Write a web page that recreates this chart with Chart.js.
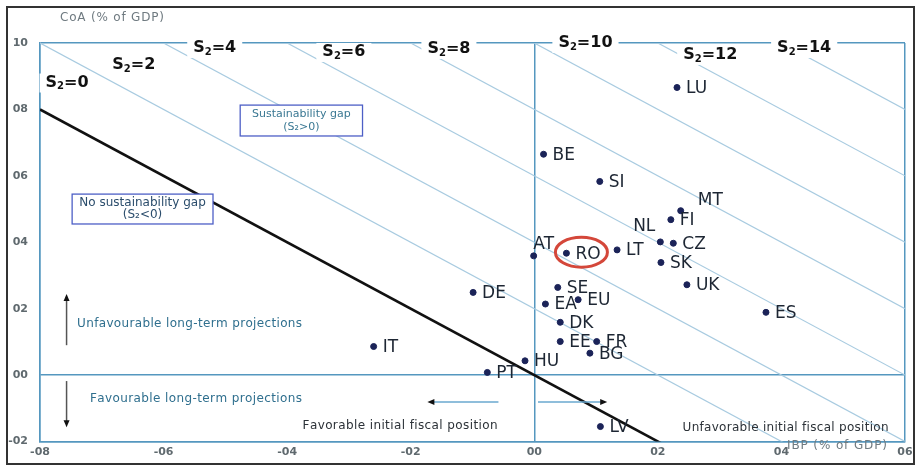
<!DOCTYPE html>
<html>
<head>
<meta charset="utf-8">
<script src="https://cdn.jsdelivr.net/npm/chart.js@4"></script>
<style>
  html, body { margin: 0; padding: 0; background: #fff; }
  #wrap { width: 920px; height: 467px; position: relative; }
</style>
</head>
<body>
<div id="wrap"><canvas id="chart"></canvas></div>
<script>
// values (share of GDP)
const countries = ["LU", "BE", "SI", "MT", "FI", "NL", "CZ", "LT", "RO", "AT", "SK", "UK", "SE", "DE", "EU", "EA", "ES", "DK", "EE", "FR", "BG", "IT", "HU", "PT", "LV"]
const ibp = [0.0231, 0.0015, 0.0106, 0.0237, 0.0221, 0.0204, 0.0225, 0.0134, 0.0052, -0.0001, 0.0205, 0.0247, 0.0038, -0.0099, 0.0071, 0.0018, 0.0375, 0.0042, 0.0042, 0.0101, 0.0090, -0.0260, -0.0015, -0.0076, 0.0107]
const coa = [0.0866, 0.0665, 0.0583, 0.0495, 0.0468, 0.0401, 0.0397, 0.0377, 0.0367, 0.0359, 0.0339, 0.0272, 0.0264, 0.0249, 0.0227, 0.0214, 0.0189, 0.0159, 0.0101, 0.0101, 0.0066, 0.0086, 0.0043, 0.0008, -0.0155]

// S2 iso lines: CoA + IBP = S2 (in % of GDP)
const s2Levels = [0, 2, 4, 6, 8, 10, 12, 14]

const xTickValues = [-0.08, -0.06, -0.04, -0.02, 0, 0.02, 0.04, 0.06]
const xTickLabels = ["-08", "-06", "-04", "-02", "00", "02", "04", "06"]
const yTickValues = [-0.02, 0, 0.02, 0.04, 0.06, 0.08, 0.10]
const yTickLabels = ["-02", "00", "02", "04", "06", "08", "10"]

const X_MIN = -0.08, X_MAX = 0.06, Y_MIN = -0.02, Y_MAX = 0.10

const axisBlue = '#5597bf'
const lineBlue = '#a8cbe0'
const FONT = '"DejaVu Sans", Verdana, sans-serif'

// where a country label sits relative to its dot (default: right of it)
const labelPlacement = {
    AT: { dx: 10, dy: -11, align: 'center' },
    NL: { dx: -5, dy: -15, align: 'right' },
    MT: { dx: 17, dy: -10, align: 'left' }
}

function drawSpaced(ctx, str, x, y, width) {
    // draws str from x, stretched with letter spacing to the given width
    const chars = [...str]
    let natural = 0
    chars.forEach(c => natural += ctx.measureText(c).width)
    const gap = width && chars.length > 1 ? (width - natural) / (chars.length - 1) : 0
    let cx = x
    chars.forEach(c => {
        ctx.fillText(c, cx, y)
        cx += ctx.measureText(c).width + gap
    })
}

function s2Label(ctx, level, x, y) {
    const big = 'bold 16px ' + FONT, small = 'bold 10px ' + FONT
    const parts = [["S", big, 0], ["2", small, 4], ["=" + level, big, 0]]
    let w = 0
    parts.forEach(p => { ctx.font = p[1]; w += ctx.measureText(p[0]).width })
    ctx.fillStyle = '#fff'
    ctx.fillRect(x - 6, y - 9, w + 12, 19)
    ctx.fillStyle = '#111'
    ctx.textBaseline = 'middle'
    ctx.textAlign = 'left'
    let cx = x
    parts.forEach(p => {
        ctx.font = p[1]
        ctx.fillText(p[0], cx, y + p[2])
        cx += ctx.measureText(p[0]).width
    })
}

function arrow(ctx, x1, y1, x2, y2, lineColor) {
    const ang = Math.atan2(y2 - y1, x2 - x1)
    ctx.strokeStyle = lineColor
    ctx.lineWidth = 1.5
    ctx.beginPath()
    ctx.moveTo(x1, y1)
    ctx.lineTo(x2 - 4 * Math.cos(ang), y2 - 4 * Math.sin(ang))
    ctx.stroke()
    ctx.fillStyle = '#111'
    ctx.beginPath()
    ctx.moveTo(x2, y2)
    ctx.lineTo(x2 - 7 * Math.cos(ang) + 3 * Math.sin(ang), y2 - 7 * Math.sin(ang) - 3 * Math.cos(ang))
    ctx.lineTo(x2 - 7 * Math.cos(ang) - 3 * Math.sin(ang), y2 - 7 * Math.sin(ang) + 3 * Math.cos(ang))
    ctx.closePath()
    ctx.fill()
}

function textBox(ctx, lines, x1, y1, x2, y2, font, color) {
    ctx.fillStyle = '#fff'
    ctx.fillRect(x1, y1, x2 - x1, y2 - y1)
    ctx.strokeStyle = '#4d5fc6'
    ctx.lineWidth = 1.3
    ctx.strokeRect(x1, y1, x2 - x1, y2 - y1)
    ctx.font = font
    ctx.fillStyle = color
    ctx.textAlign = 'center'
    ctx.textBaseline = 'middle'
    const h = (y2 - y1) / (lines.length + 1)
    lines.forEach((t, i) => ctx.fillText(t, (x1 + x2) / 2, y1 + h * (i + 1) + (i === 0 ? -1 : 1)))
}

const annotations = {
    id: 'annotations',
    beforeDraw(chart) {
        const ctx = chart.ctx
        ctx.save()
        ctx.fillStyle = '#fff'
        ctx.fillRect(0, 0, chart.width, chart.height)
        ctx.restore()
    },
    afterDraw(chart) {
        const ctx = chart.ctx
        const xs = chart.scales.x, ys = chart.scales.y
        const px = v => xs.getPixelForValue(v)
        const py = v => ys.getPixelForValue(v)
        ctx.save()

        // S2 labels along the top
        const s2Anchors = [[-0.0791, 0.0881], [-0.0683, 0.0934], [-0.0552, 0.0985], [-0.0343, 0.0973],
                           [-0.0173, 0.0982], [0.0039, 0.1000], [0.0241, 0.0964], [0.0393, 0.0985]]
        s2Levels.forEach((lv, i) => s2Label(ctx, lv, px(s2Anchors[i][0]), py(s2Anchors[i][1])))

        // boxes
        textBox(ctx, ["Sustainability gap", "(S\u2082>0)"], px(-0.0476), py(0.0813), px(-0.0278), py(0.0720),
            '11px ' + FONT, '#3a7893')
        textBox(ctx, ["No sustainability gap", "(S\u2082<0)"], px(-0.0748), py(0.0545), px(-0.0520), py(0.0455),
            '12px ' + FONT, '#2b4d6c')

        // side notes
        ctx.textAlign = 'left'
        ctx.textBaseline = 'middle'
        ctx.font = '12px ' + FONT
        ctx.fillStyle = '#2f6f8e'
        drawSpaced(ctx, "Unfavourable long-term projections", px(-0.0740), py(0.0154), 225)
        drawSpaced(ctx, "Favourable long-term projections", px(-0.0719), py(-0.0072), 212)
        ctx.fillStyle = '#2c3238'
        drawSpaced(ctx, "Favorable initial fiscal position", px(-0.0375), py(-0.0154), 195)
        drawSpaced(ctx, "Unfavorable initial fiscal position", px(0.0240), py(-0.0160), 206)

        arrow(ctx, px(-0.0757), py(0.0090), px(-0.0757), py(0.0244), '#555')
        arrow(ctx, px(-0.0757), py(-0.0018), px(-0.0757), py(-0.0157), '#555')
        arrow(ctx, px(-0.0058), py(-0.0081), px(-0.0173), py(-0.0081), '#6aa8cf')
        arrow(ctx, px(0.0006), py(-0.0081), px(0.0118), py(-0.0081), '#6aa8cf')

        // country labels
        ctx.font = '17px ' + FONT
        ctx.fillStyle = '#1d2633'
        countries.forEach((c, i) => {
            const p = labelPlacement[c] || { dx: 9, dy: 1, align: 'left' }
            ctx.textAlign = p.align
            ctx.fillText(c, px(ibp[i]) + p.dx, py(coa[i]) + p.dy)
        })

        // highlight Romania
        const ro = countries.indexOf("RO")
        ctx.strokeStyle = '#d4473a'
        ctx.lineWidth = 3
        ctx.beginPath()
        ctx.ellipse(px(ibp[ro]) + 15, py(coa[ro]) - 1, 26, 15, 0, 0, Math.PI * 2)
        ctx.stroke()

        // axis titles
        ctx.font = '12px ' + FONT
        ctx.fillStyle = '#6f7a80'
        ctx.textAlign = 'left'
        drawSpaced(ctx, "CoA (% of GDP)", 60, 18, 104)
        drawSpaced(ctx, "IBP (% of GDP)", 787, 446, 100)

        // outer frame
        ctx.strokeStyle = '#333'
        ctx.lineWidth = 2
        ctx.strokeRect(7, 7, 907, 457)
        ctx.restore()
    }
}

const isoLines = s2Levels.map(lv => ({
    type: 'line',
    data: [{ x: X_MIN, y: lv / 100 - X_MIN }, { x: X_MAX, y: lv / 100 - X_MAX }],
    borderColor: lv === 0 ? '#111' : lineBlue,
    borderWidth: lv === 0 ? 2.6 : 1.2,
    pointRadius: 0,
    fill: false
}))

const points = countries.map((c, i) => ({ x: ibp[i], y: coa[i] }))

const gridColor = (vals) => ctx => {
    const v = ctx.tick.value
    return (Math.abs(v) < 1e-9 || Math.abs(v - vals[0]) < 1e-9 || Math.abs(v - vals[vals.length - 1]) < 1e-9) ? axisBlue : 'rgba(0,0,0,0)'
}

new Chart(document.getElementById('chart'), {
    type: 'scatter',
    data: {
        datasets: [{
            data: points,
            backgroundColor: '#1b2358',
            borderColor: '#1b2358',
            pointRadius: 3,
            pointHoverRadius: 3
        }].concat(isoLines)
    },
    options: {
        responsive: true,
        maintainAspectRatio: false,
        animation: false,
        events: [],
        layout: { padding: { left: 0, top: 43, right: 15, bottom: 0 } },
        plugins: { legend: { display: false }, tooltip: { enabled: false } },
        scales: {
            x: {
                type: 'linear', min: X_MIN, max: X_MAX,
                afterBuildTicks: s => { s.ticks = xTickValues.map(v => ({ value: v })) },
                afterFit: s => { s.height = 25.5 },
                ticks: {
                    callback: (v, i) => xTickLabels[i],
                    font: { family: FONT, size: 11, weight: 'bold' },
                    color: '#5f696e', padding: 4, maxRotation: 0, autoSkip: false
                },
                grid: { color: gridColor(xTickValues), lineWidth: 1.5, drawTicks: false },
                border: { color: axisBlue, width: 1.5 }
            },
            y: {
                type: 'linear', min: Y_MIN, max: Y_MAX,
                afterBuildTicks: s => { s.ticks = yTickValues.map(v => ({ value: v })) },
                afterFit: s => { s.width = 40 },
                ticks: {
                    callback: (v, i) => yTickLabels[i],
                    font: { family: FONT, size: 11, weight: 'bold' },
                    color: '#5f696e', padding: 12, autoSkip: false
                },
                grid: { color: gridColor(yTickValues), lineWidth: 1.5, drawTicks: false },
                border: { color: axisBlue, width: 1.5 }
            }
        }
    },
    plugins: [annotations]
})
</script>
</body>
</html>
